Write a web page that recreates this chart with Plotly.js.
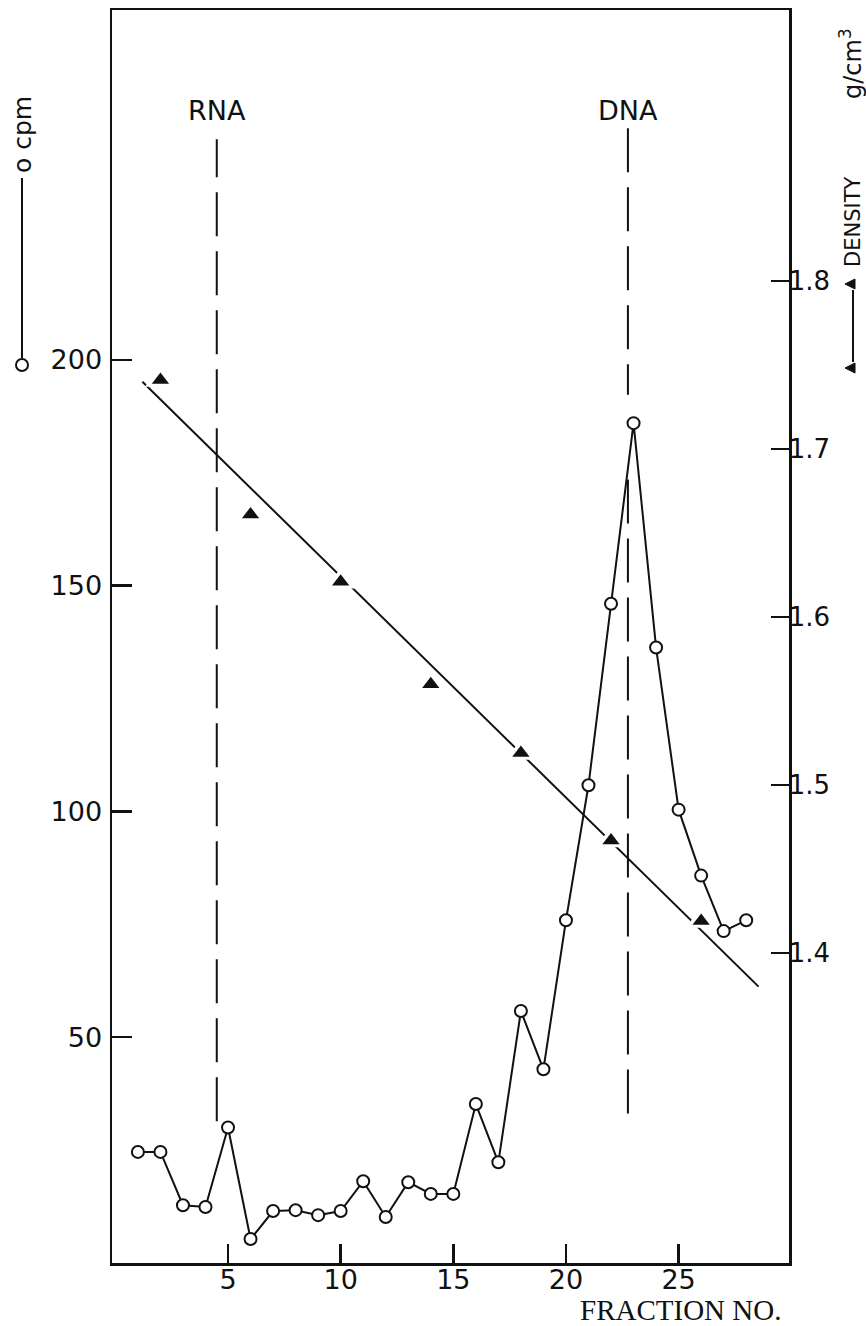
<!DOCTYPE html>
<html>
<head>
<meta charset="utf-8">
<script src="https://cdn.plot.ly/plotly-3.0.1.min.js"></script>
<style>
  html, body { margin: 0; padding: 0; background: #fff; }
  #plot { width: 866px; height: 1326px; }
</style>
</head>
<body>
<div id="plot"></div>
<script>
// ─── Data ──────────────────────────────────────────────────────────
// cpm (open circles) per fraction
const fraction = [1, 2, 3, 4, 5, 6, 7, 8, 9, 10, 11, 12, 13, 14,
                  15, 16, 17, 18, 19, 20, 21, 22, 23, 24, 25, 26, 27, 28];
const cpm = [24.6, 24.6, 12.8, 12.4, 30.0, 5.3, 11.5, 11.7, 10.6, 11.5, 18.1, 10.2, 17.9, 15.3,
             15.3, 35.2, 22.3, 55.8, 42.9, 75.9, 105.8, 146.0, 186.0, 136.3, 100.4, 85.8, 73.5, 75.9];

// density (filled triangles), g/cm3
const densityFraction = [2, 6, 10, 14, 18, 22, 26];
const density = [1.741, 1.661, 1.621, 1.560, 1.519, 1.467, 1.419];

// straight line drawn through the density points (its two ends)
const fitFraction = [1.2, 28.55];
const fitDensity = [1.740, 1.380];

// dashed markers for the RNA and DNA positions (cpm scale)
const rnaFraction = 4.5;
const rnaSpan = [31.4, 248.9];
const dnaFraction = 22.75;
const dnaSpan = [251.3, 192.3, null, 173.5, 32.5];

// ticks
const xTicks = [5, 10, 15, 20, 25];
const cpmTicks = [50, 100, 150, 200];
const densityTicks = [1.4, 1.5, 1.6, 1.7, 1.8];
const densityTickText = ['1.4', '1.5', '1.6', '1.7', '1.8'];

// ─── Geometry (pixels of the 866x1326 page) ────────────────────────
const PX_L = 112, PX_R = 789, PX_T = 10, PX_B = 1263;
const px = x => (x - PX_L) / (PX_R - PX_L);      // page x -> paper x
const py = y => (PX_B - y) / (PX_B - PX_T);      // page y -> paper y

const FONT = 'DejaVu Sans, Arial, sans-serif';
const INK = '#111';

const axisCommon = {
    showgrid: false, zeroline: false,
    showline: true, linecolor: INK, linewidth: 2.5,
    ticks: 'inside', tickcolor: INK, tickwidth: 2.5,
    tickfont: { family: FONT, size: 27, color: INK },
    fixedrange: true
};

const data = [
    // fitted density line
    { x: fitFraction, y: fitDensity, yaxis: 'y2', type: 'scatter', mode: 'lines',
      line: { color: INK, width: 2 }, hoverinfo: 'skip' },
    // white halo so the line breaks around each triangle
    { x: densityFraction, y: density, yaxis: 'y2', type: 'scatter', mode: 'markers',
      marker: { symbol: 'triangle-up', size: 27, color: '#fff' }, hoverinfo: 'skip' },
    // density points
    { x: densityFraction, y: density, yaxis: 'y2', type: 'scatter', mode: 'markers',
      marker: { symbol: 'triangle-up', size: 15, color: INK } },
    // RNA / DNA dashed markers
    { x: rnaSpan.map(() => rnaFraction), y: rnaSpan, type: 'scatter', mode: 'lines',
      line: { color: INK, width: 2, dash: '44px,15px' }, hoverinfo: 'skip' },
    { x: dnaSpan.map(v => v === null ? null : dnaFraction), y: dnaSpan, type: 'scatter', mode: 'lines',
      connectgaps: false,
      line: { color: INK, width: 2, dash: '44px,15px' }, hoverinfo: 'skip' },
    // cpm profile
    { x: fraction, y: cpm, type: 'scatter', mode: 'lines+markers',
      line: { color: INK, width: 2 },
      marker: { symbol: 'circle', size: 12, color: '#fff', line: { color: INK, width: 2 } } }
];

function label(text, x, y, size, extra) {
    return Object.assign({
        text: text, xref: 'paper', yref: 'paper', x: px(x), y: py(y),
        xanchor: 'center', yanchor: 'middle', showarrow: false, borderpad: 0,
        font: { family: FONT, size: size, color: INK }
    }, extra || {});
}

// small left-pointing triangle (the ▲ of the rotated axis title)
function leftTriangle(cx, cy) {
    const pts = [[cx - 6, cy], [cx + 4, cy - 5], [cx + 4, cy + 5]];
    return {
        type: 'path', xref: 'paper', yref: 'paper',
        path: 'M' + pts.map(p => px(p[0]) + ',' + py(p[1])).join(' L') + ' Z',
        fillcolor: INK, line: { color: INK, width: 1 }
    };
}

const layout = {
    width: 866, height: 1326,
    margin: { l: PX_L, r: 866 - PX_R, t: PX_T, b: 1326 - PX_B },
    paper_bgcolor: '#fff', plot_bgcolor: '#fff',
    showlegend: false,
    xaxis: Object.assign({}, axisCommon, {
        range: [-0.15, 29.9], tickvals: xTicks, ticklen: 19, mirror: true,
        ticklabelstandoff: -9
    }),
    yaxis: Object.assign({}, axisCommon, {
        range: [0, 277.5], tickvals: cpmTicks, ticklen: 20, ticklabelstandoff: 2
    }),
    yaxis2: Object.assign({}, axisCommon, {
        overlaying: 'y', side: 'right',
        range: [1.2155, 1.9613], tickvals: densityTicks, ticktext: densityTickText, ticklen: 18,
        ticklabelstandoff: -8,
        tickfont: { family: FONT, size: 26, color: INK }
    }),
    shapes: [
        // left axis legend: o——o
        { type: 'circle', xref: 'paper', yref: 'paper',
          x0: px(16), x1: px(28), y0: py(371), y1: py(359), line: { color: INK, width: 2 } },
        { type: 'line', xref: 'paper', yref: 'paper',
          x0: px(22), x1: px(22), y0: py(358), y1: py(178), line: { color: INK, width: 2 } },
        // right axis legend: ▲——▲
        { type: 'line', xref: 'paper', yref: 'paper',
          x0: px(853), x1: px(853), y0: py(362), y1: py(290), line: { color: INK, width: 2 } },
        leftTriangle(851, 368),
        leftTriangle(851, 284)
    ],
    annotations: [
        { text: 'RNA', xref: 'x', yref: 'paper', x: rnaFraction, y: py(110),
          xanchor: 'center', yanchor: 'middle',
          showarrow: false, font: { family: FONT, size: 27, color: INK } },
        { text: 'DNA', xref: 'x', yref: 'paper', x: dnaFraction, y: py(110),
          xanchor: 'center', yanchor: 'middle',
          showarrow: false, font: { family: FONT, size: 27, color: INK } },
        label('FRACTION NO.', 680, 1310, 29,
              { font: { family: 'Liberation Serif, Times New Roman, serif', size: 29, color: INK } }),
        // left axis title
        label('o cpm', 22, 135, 25, { textangle: -90 }),
        // right axis title
        label('DENSITY', 853, 222, 21, { textangle: -90 }),
        label('g/cm<sup>3</sup>', 851, 64, 24, { textangle: -90 })
    ]
};

Plotly.newPlot('plot', data, layout, { displayModeBar: false, staticPlot: true });
</script>
</body>
</html>
